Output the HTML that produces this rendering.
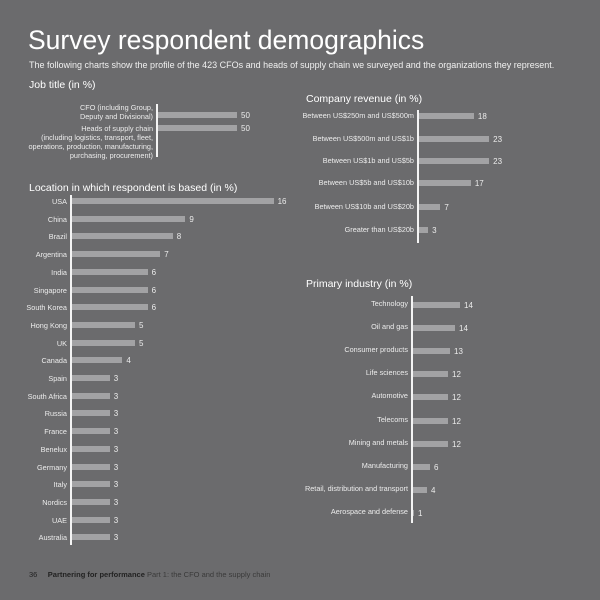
<!DOCTYPE html>
<html><head><meta charset="utf-8"><style>
body{margin:0;width:600px;height:600px;background:#6b6b6d;position:relative;overflow:hidden;font-family:"Liberation Sans","DejaVu Sans",sans-serif;color:#f2f2f2}
div{position:absolute;white-space:nowrap}
#c{left:0;top:0;width:600px;height:600px}
.t{font-size:7.3px;line-height:9px;color:#ececec}
.r{text-align:right}
.b{background:#a2a2a4;height:6px}
.ax{background:#f4f4f4;width:2px}
.h{font-size:10.5px;color:#fff}
</style></head><body>
<div style="left:28px;top:25px;font-size:26.5px;color:#fff">Survey respondent demographics</div>
<div style="left:29px;top:60px;font-size:9px;color:#f0f0f0">The following charts show the profile of the 423 CFOs and heads of supply chain we surveyed and the organizations they represent.</div>
<div class="h" style="left:29px;top:79px">Job title (in %)</div>
<div class="h" style="left:29px;top:182px">Location in which respondent is based (in %)</div>
<div class="h" style="left:306px;top:93px">Company revenue (in %)</div>
<div class="h" style="left:306px;top:278px">Primary industry (in %)</div>
<div id="c"></div>
<div style="left:29px;top:570px;font-size:7.5px;color:#222">36&nbsp;&nbsp;&nbsp;&nbsp;&nbsp;<b>Partnering for performance</b> <span style="color:#3a3a3a">Part 1: the CFO and the supply chain</span></div>
<script>
var c=document.getElementById('c'),h='';
function ax(x,y1,y2){h+='<div class="ax" style="left:'+x+'px;top:'+y1+'px;height:'+(y2-y1)+'px"></div>';}
function row(x,y,end,lab,v,ly){h+='<div class="b" style="left:'+(x+2)+'px;top:'+(y-3)+'px;width:'+(end-x-2)+'px"></div>';
h+='<div class="t" style="left:'+(end+4)+'px;top:'+(y-4)+'px;font-size:8px">'+v+'</div>';
if(lab)h+='<div class="t r" style="right:'+(600-x+3)+'px;top:'+((ly||y)-5)+'px">'+lab+'</div>';}
ax(156,104,157);
row(156,115,237,'',50);row(156,128,237,'',50);
h+='<div class="t r" style="right:447px;top:103px">CFO (including Group,<br>Deputy and Divisional)</div>';
h+='<div class="t r" style="right:447px;top:124px">Heads of supply chain<br>(including logistics, transport, fleet,<br>operations, production, manufacturing,<br>purchasing, procurement)</div>';
var L=[['USA',16],['China',9],['Brazil',8],['Argentina',7],['India',6],['Singapore',6],['South Korea',6],['Hong Kong',5],['UK',5],['Canada',4],['Spain',3],['South Africa',3],['Russia',3],['France',3],['Benelux',3],['Germany',3],['Italy',3],['Nordics',3],['UAE',3],['Australia',3]];
ax(70,195,545);
L.forEach(function(d,i){var y=201+i*17.7;row(70,Math.round(y),72+d[1]*12.6,d[0],d[1],Math.round(y)+1);});
var R=[['Between US$250m and US$500m',18,116],['Between US$500m and US$1b',23,139],['Between US$1b and US$5b',23,161],['Between US$5b and US$10b',17,183],['Between US$10b and US$20b',7,207],['Greater than US$20b',3,230]];
ax(417,110,243);
R.forEach(function(d){row(417,d[2],419+d[1]*3.05,d[0],d[1],d[2]);});
var I=[['Technology',14,460],['Oil and gas',14,455],['Consumer products',13,450],['Life sciences',12,448],['Automotive',12,448],['Telecoms',12,448],['Mining and metals',12,448],['Manufacturing',6,430],['Retail, distribution and transport',4,427],['Aerospace and defense',1,414]];
ax(411,296,523);
I.forEach(function(d,i){var y=Math.round(305+i*23.1);row(411,y,d[2],d[0],d[1],y-1);});
c.innerHTML=h;
</script>
</body></html>
